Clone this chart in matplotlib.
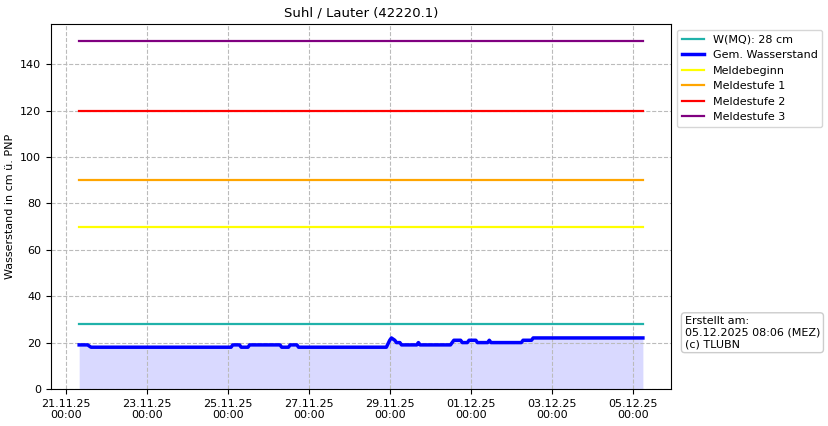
import matplotlib.pyplot as plt
import matplotlib.dates as mdates
import pandas as pd

# water level breakpoints
level_times = [
    "2025-11-21 08:00", "2025-11-21 13:00", "2025-11-21 15:00",
    "2025-11-25 02:00", "2025-11-25 03:00", "2025-11-25 07:00", "2025-11-25 08:00",
    "2025-11-25 12:00", "2025-11-25 13:00", "2025-11-26 07:00", "2025-11-26 08:00",
    "2025-11-26 12:00", "2025-11-26 13:00", "2025-11-26 17:00", "2025-11-26 18:00",
    "2025-11-28 22:00", "2025-11-29 00:00", "2025-11-29 01:00", "2025-11-29 03:00",
    "2025-11-29 04:00", "2025-11-29 06:00", "2025-11-29 07:00", "2025-11-29 16:00",
    "2025-11-29 17:00", "2025-11-29 18:00", "2025-11-30 12:00", "2025-11-30 14:00",
    "2025-11-30 18:00", "2025-11-30 19:00", "2025-11-30 22:00", "2025-11-30 23:00",
    "2025-12-01 03:00", "2025-12-01 04:00", "2025-12-01 10:00", "2025-12-01 11:00",
    "2025-12-01 12:00", "2025-12-02 06:00", "2025-12-02 07:00", "2025-12-02 12:00",
    "2025-12-02 13:00", "2025-12-05 06:00",
]
level_values = [
    19, 19, 18,
    18, 19, 19, 18,
    18, 19, 19, 18,
    18, 19, 19, 18,
    18, 21, 22, 21,
    20, 20, 19, 19,
    20, 19, 19, 21,
    21, 20, 20, 21,
    21, 20, 20, 21,
    20, 20, 21, 21,
    22, 22,
]

mq_label = "W(MQ): 28 cm"
mq_value = 28
threshold_names = ["Meldebeginn", "Meldestufe 1", "Meldestufe 2", "Meldestufe 3"]
threshold_values = [70, 90, 120, 150]
threshold_colors = ["yellow", "orange", "red", "purple"]

times = pd.to_datetime(level_times)
t0, t1 = times[0], times[-1]

fig = plt.figure(figsize=(8.29, 4.26), dpi=100)
ax = fig.add_axes([0.0615, 0.087, 0.748, 0.857])

ax.plot([t0, t1], [mq_value, mq_value], color="lightseagreen", lw=1.6, label=mq_label)
ax.fill_between(times, level_values, color="blue", alpha=0.15, lw=0)
ax.plot(times, level_values, color="blue", lw=2.5, label="Gem. Wasserstand")
for name, val, col in zip(threshold_names, threshold_values, threshold_colors):
    ax.plot([t0, t1], [val, val], color=col, lw=1.6, label=name)

ax.set_ylim(bottom=0)
ax.set_title("Suhl / Lauter (42220.1)", fontsize=9.5, pad=5)
ax.set_ylabel("Wasserstand in cm ü. PNP", fontsize=8)
ax.set_xticks(pd.date_range("2025-11-21", "2025-12-05", freq="2D"))
ax.xaxis.set_major_formatter(mdates.DateFormatter("%d.%m.%y\n%H:%M"))
ax.tick_params(labelsize=8)
ax.grid(True, linestyle="--", color="#bbbbbb")

ax.legend(loc="upper left", bbox_to_anchor=(1.001, 0.998), fontsize=8)

fig.text(0.826, 0.18, "Erstellt am:\n05.12.2025 08:06 (MEZ)\n(c) TLUBN",
         fontsize=8, va="bottom", ha="left",
         bbox=dict(boxstyle="round,pad=0.3", fc="white", ec="#cccccc"))

fig.savefig("out.png", dpi=100)
